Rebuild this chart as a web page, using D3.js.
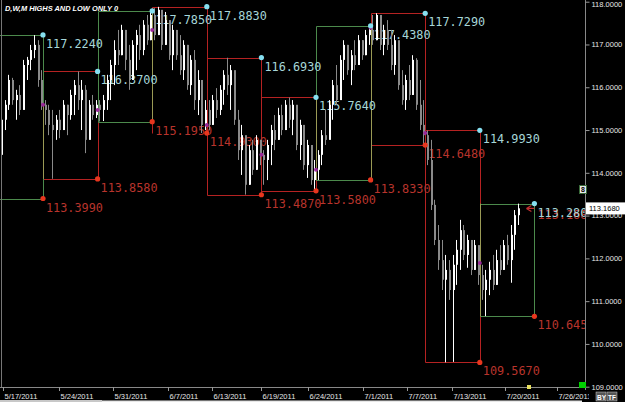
<!DOCTYPE html>
<html><head><meta charset="utf-8">
<script src="https://cdn.jsdelivr.net/npm/d3@7"></script>
<style>html,body{margin:0;padding:0;background:#000;overflow:hidden}svg{display:block}</style>
</head><body><svg id="c" width="625" height="402"></svg>
<script>
// ---------- DATA ----------
const title = "D,W,M HIGHS AND LOW ONLY 0";
const firstOpen = 114.42;
const highs = [
115.42,115.70,116.29,116.22,115.94,116.05,116.64,116.71,116.99,117.22,117.10,116.40,
115.70,115.59,115.47,115.35,115.47,115.70,115.59,115.94,116.17,116.37,116.17,116.05,115.70,115.82,115.70,
115.70,115.82,116.29,116.64,117.10,117.34,117.46,117.34,116.99,117.10,117.34,117.46,117.57,117.69,117.79,
117.85,117.88,117.69,117.76,117.57,117.46,117.34,117.22,117.10,116.99,116.75,116.87,116.40,116.05,115.70,
115.70,115.82,115.98,116.05,116.40,116.69,116.52,116.05,115.47,115.12,114.77,114.65,114.77,114.88,114.77,
114.53,114.77,115.12,115.35,115.52,115.59,115.70,115.76,115.70,115.47,115.24,115.00,114.77,114.53,114.30,
114.53,115.00,115.47,115.70,116.17,116.52,116.75,117.10,116.99,116.87,117.10,117.22,117.10,117.34,117.44,
117.69,117.73,117.62,117.46,117.57,117.34,117.22,116.87,116.40,116.29,116.52,116.75,116.68,116.17,115.70,
114.99,114.77,113.37,112.78,112.43,112.08,111.96,112.08,112.43,112.90,112.78,112.55,112.31,112.43,112.20,
111.85,111.73,111.92,112.08,112.20,112.31,112.43,112.55,112.78,113.13,113.28];
const lows = [
114.30,115.00,115.47,115.59,115.24,115.35,115.94,116.17,116.40,116.68,116.01,115.47,
115.12,114.88,113.86,114.77,114.81,115.00,114.88,115.24,115.35,115.47,115.00,114.46,114.88,115.24,115.28,
115.20,115.21,115.47,115.70,116.05,116.52,116.75,116.40,115.94,116.17,116.40,116.64,116.75,116.99,117.10,
117.10,117.22,116.87,116.99,116.64,116.40,116.64,116.29,116.17,115.94,115.82,115.47,115.35,114.93,115.00,
115.00,115.12,115.28,115.35,115.59,115.82,115.47,115.12,114.30,113.95,113.49,113.72,113.95,114.07,114.18,
113.72,113.83,114.18,114.53,114.77,114.88,115.00,115.05,114.88,114.53,114.30,114.07,113.88,113.72,113.58,
113.83,114.18,114.65,114.88,115.24,115.59,115.94,116.17,116.29,116.05,116.40,116.52,116.64,116.75,116.99,
116.99,117.10,116.87,116.75,116.87,116.40,116.29,115.94,115.59,115.47,115.70,115.82,115.47,115.00,114.65,
114.18,113.13,112.31,111.73,111.26,109.57,111.03,109.58,111.38,111.73,111.96,111.78,111.61,111.73,111.38,
111.03,110.65,111.14,111.26,111.38,111.61,111.73,111.85,111.43,112.20,112.78];
const closes = [
115.24,115.59,116.17,115.70,115.82,115.47,116.52,116.64,116.87,116.99,116.17,115.59,
115.47,115.12,115.00,115.24,115.00,115.59,115.35,115.82,116.05,115.70,115.94,114.77,115.59,115.35,115.59,
115.47,115.70,116.17,116.52,116.87,116.75,117.34,116.64,116.17,116.99,117.22,116.87,117.46,117.10,117.69,
117.22,117.81,116.99,117.57,116.75,117.34,116.75,116.40,116.99,116.05,116.64,115.70,116.17,115.12,115.47,
115.12,115.70,115.47,115.94,116.29,116.05,116.40,115.24,114.53,114.88,113.72,114.53,114.07,114.77,114.42,
114.30,114.65,115.00,114.77,115.35,115.00,115.59,115.24,115.59,114.65,115.12,114.18,114.65,113.83,114.07,
114.42,114.88,114.77,115.59,116.05,115.70,116.64,116.99,116.40,116.75,116.52,117.10,116.75,117.22,117.34,
117.10,117.69,116.99,117.34,116.99,116.52,117.10,116.05,115.70,116.17,115.82,116.64,115.59,115.12,114.88,
114.30,113.25,112.43,111.96,111.50,111.73,111.26,111.85,112.20,112.66,112.08,112.43,111.73,112.31,111.61,
111.26,111.50,111.73,111.38,111.96,111.73,112.31,111.96,112.55,113.01,113.17];

// weekly boxes (positions in bar slots)
const weekStarts = [-3, 12, 27, 42, 57, 72, 87, 102, 117, 132];
const weekEnds   = [12, 27, 42, 57, 72, 87, 102, 117, 132, 147];
const weekHighs  = [117.224,116.370,117.785,117.883,116.693,115.764,117.438,117.729,114.993,113.280];
const weekLows   = [113.399,113.858,115.195,114.930,113.487,113.580,113.833,114.648,109.567,110.645];
const weekDirs   = ["up","down","up","down","down","down","up","down","down","up"];
const weekLowLine = [true,true,true,false,true,true,true,true,true,true];
const weekOpenSlots = [12, 27, 42, 57, 72, 87, 102, 117, 132];
const weekOpens     = [115.59,115.47,117.34,115.12,114.42,114.07,117.39,114.93,111.89];
// olive connector lines [slot, from, to]
const oliveSlots = [12, 42, 87, 102, 132];
const oliveFrom  = [115.59,117.785,115.764,117.438,113.280];
const oliveTo    = [113.858,115.195,113.833,113.833,110.645];

const dateLabels = ["5/17/2011","5/24/2011","5/31/2011","6/7/2011","6/13/2011","6/19/2011","6/24/2011","7/1/2011","7/7/2011","7/13/2011","7/20/2011","7/26/2011"];
const dateSlots  = [1.0,16.4,31.2,46.3,58.4,71.9,84.8,99.9,112.0,124.4,138.9,153.2];
const priceTicks = [109,110,111,112,113,114,115,116,117,118];
const lastPrice = 113.168;

// ---------- DRAW ----------
const svg = d3.select("#c");
const PR = 585, PB = 387;
const x = d3.scaleLinear().domain([0,160.9]).range([-0.68,PR]);
const y = d3.scaleLinear().domain([109,118]).range([386.7,1.7]);
const f4 = d3.format(".4f");

svg.append("rect").attr("width",625).attr("height",402).attr("fill","#000");
const defs = svg.append("defs");
defs.append("clipPath").attr("id","pc").append("rect").attr("x",0).attr("y",0).attr("width",PR).attr("height",PB);
defs.append("clipPath").attr("id","dc").append("rect").attr("x",0).attr("y",PB).attr("width",589).attr("height",15);

const g = svg.append("g").attr("clip-path","url(#pc)");

const RED="#b52222", GREEN="#4c8a4c", OLIVE="#9a9a55";
const weeks = weekStarts.map((s,i)=>({s, e:weekEnds[i], hi:weekHighs[i], lo:weekLows[i], dir:weekDirs[i], lowLine:weekLowLine[i]}));
const ordered = weeks.filter(w=>w.dir==="down").concat(weeks.filter(w=>w.dir==="up"));
const lineG = g.append("g");
ordered.forEach(w=>{
  const c = w.dir==="up"?GREEN:RED;
  const segs = [[w.s,w.hi,w.e,w.hi],[w.s,w.hi,w.s,w.lo],[w.e,w.hi,w.e,w.lo]];
  if (w.lowLine) segs.push([w.s,w.lo,w.e,w.lo]);
  segs.forEach(sg=>{
    lineG.append("line").attr("x1",Math.round(x(sg[0]))+0.5).attr("x2",Math.round(x(sg[2]))+0.5)
      .attr("y1",Math.round(y(sg[1]))+0.5).attr("y2",Math.round(y(sg[3]))+0.5)
      .attr("stroke",c).attr("stroke-width",1);
  });
});
oliveSlots.forEach((s,i)=>{
  lineG.append("line").attr("x1",Math.round(x(s))+0.5).attr("x2",Math.round(x(s))+0.5)
    .attr("y1",y(oliveFrom[i])).attr("y2",y(oliveTo[i])).attr("stroke",OLIVE).attr("stroke-width",1);
});

// labels
const labG = g.append("g").style("font-family","'DejaVu Sans Mono',monospace").style("font-size","13px");
// last price red tag behind
labG.append("text").attr("x",x(147)+3).attr("y",y(lastPrice)+11).attr("fill","#b8342c")
  .attr("textLength",57).attr("lengthAdjust","spacingAndGlyphs").text(f4(lastPrice));
weeks.forEach(w=>{
  labG.append("text").attr("x",x(w.e)+3).attr("y",y(w.hi)+13).attr("fill","#a6d6d8")
    .attr("textLength",57).attr("lengthAdjust","spacingAndGlyphs").text(f4(w.hi));
  labG.append("text").attr("x",x(w.e)+3).attr("y",y(w.lo)+13).attr("fill","#b8342c")
    .attr("textLength",57).attr("lengthAdjust","spacingAndGlyphs").text(f4(w.lo));
});

// bars
const barG = g.append("g");
closes.forEach((c,i)=>{
  const o = i===0?firstOpen:closes[i-1];
  const col = c>=o ? "#ffffff" : "#8a8a8a";
  const cx = Math.round(x(i+0.5));
  barG.append("line").attr("x1",cx+0.5).attr("x2",cx+0.5).attr("y1",y(highs[i])).attr("y2",y(lows[i]))
    .attr("stroke",col).attr("stroke-width",1);
  const top = Math.min(y(o),y(c)), bot = Math.max(y(o),y(c));
  barG.append("rect").attr("x",cx).attr("y",top).attr("width",2).attr("height",Math.max(1,bot-top)).attr("fill",col);
});

// arrow at last price
const ax = x(147)-6, ay = y(lastPrice);
g.append("path").attr("d",`M${ax-2},${ay} l5,-3 M${ax-2},${ay} l5,3 M${ax-2},${ay} h8`).attr("stroke","#c03030").attr("stroke-width",1.2).attr("fill","none");

// dots
const dotG = g.append("g");
weekOpenSlots.forEach((s,i)=>{
  dotG.append("circle").attr("cx",x(s)).attr("cy",y(weekOpens[i])).attr("r",2).attr("fill","#9a2a9a");
});
weeks.forEach(w=>{
  dotG.append("circle").attr("cx",x(w.e)).attr("cy",y(w.hi)).attr("r",2.6).attr("fill","#86dff0");
  dotG.append("circle").attr("cx",x(w.e)).attr("cy",y(w.lo)).attr("r",2.6).attr("fill","#e8361e");
});

// title
svg.append("text").attr("x",5).attr("y",11).attr("fill","#fff").style("font-family","'Liberation Sans',Arial,sans-serif")
  .style("font-size","8px").style("font-weight","bold").style("font-style","italic")
  .attr("textLength",113).attr("lengthAdjust","spacingAndGlyphs").text(title);

// frame
svg.append("line").attr("x1",1.5).attr("x2",1.5).attr("y1",0).attr("y2",PB).attr("stroke","#777");
svg.append("line").attr("x1",0).attr("x2",PR).attr("y1",PB+0.5).attr("y2",PB+0.5).attr("stroke","#888");
svg.append("line").attr("x1",PR+0.5).attr("x2",PR+0.5).attr("y1",0).attr("y2",PB+3).attr("stroke","#888");

// right axis
const yAxis = d3.axisRight(y).tickValues(priceTicks).tickSize(4).tickFormat(f4);
const ya = svg.append("g").attr("transform",`translate(${PR+0.5},0)`).call(yAxis);
ya.select(".domain").remove();
ya.selectAll("line").attr("stroke","#999");
ya.selectAll("text").attr("fill","#e6e6e6").attr("x",6).style("font-family","'Liberation Sans',Arial,sans-serif").style("font-size","7.5px");
ya.selectAll(".tick").filter(d=>d===118).select("text").attr("dy","0.62em");

// bottom axis
const xa = svg.append("g").attr("clip-path","url(#dc)");
dateSlots.forEach((s,i)=>{
  const tx = Math.round(x(s))+0.5;
  xa.append("line").attr("x1",tx).attr("x2",tx).attr("y1",PB).attr("y2",PB+4).attr("stroke","#999");
  xa.append("text").attr("x",tx+1).attr("y",PB+11.5).attr("fill","#e6e6e6")
    .style("font-family","'Liberation Sans',Arial,sans-serif").style("font-size","7.5px").text(dateLabels[i]);
});

// last price box
svg.append("rect").attr("x",PR+1).attr("y",y(lastPrice)-6).attr("width",40).attr("height",12).attr("fill","#fff");
svg.append("text").attr("x",PR+4).attr("y",y(lastPrice)+3).attr("fill","#000")
  .style("font-family","'Liberation Sans',Arial,sans-serif").style("font-size","7.5px").text(f4(lastPrice));

// small widgets
svg.append("rect").attr("x",579.5).attr("y",185.5).attr("width",7).attr("height",8).attr("fill","#e8e8e8").attr("stroke","#3a6a3a");
svg.append("text").attr("x",581).attr("y",192).attr("fill","#000").style("font-family","'Liberation Sans',sans-serif").style("font-size","7px").style("font-weight","bold").text("8");
svg.append("rect").attr("x",579).attr("y",382).attr("width",7).attr("height",6).attr("fill","#00d000");
svg.append("rect").attr("x",527).attr("y",385).attr("width",4).attr("height",4).attr("fill","#e8e060");
[["BY",596],["TF",607]].forEach(b=>{
  svg.append("rect").attr("x",b[1]).attr("y",392).attr("width",10).attr("height",9).attr("fill","#555").attr("stroke","#ccc").attr("stroke-width",0.5);
  svg.append("text").attr("x",b[1]+1).attr("y",399.5).attr("fill","#fff").style("font-family","'Liberation Sans',sans-serif").style("font-size","6.5px").style("font-weight","bold").text(b[0]);
});
svg.append("rect").attr("x",0).attr("y",400).attr("width",102).attr("height",2).attr("fill","#c8c8c8");
svg.append("rect").attr("x",102).attr("y",400.5).attr("width",480).attr("height",1.5).attr("fill","#e8e8e8");
</script></body></html>
